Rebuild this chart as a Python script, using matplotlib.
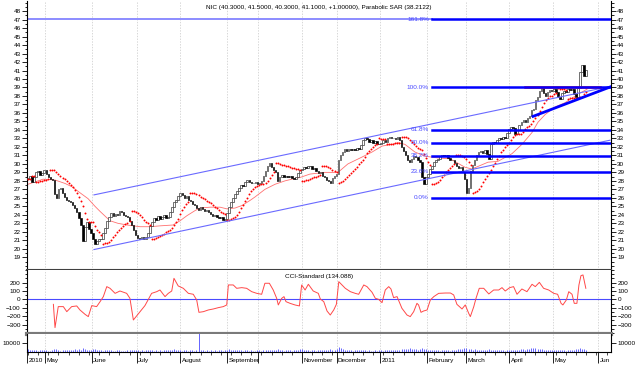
import numpy as np
import matplotlib.pyplot as plt
from matplotlib.transforms import blended_transform_factory

plt.rcParams['font.family'] = ['Liberation Sans', 'DejaVu Sans']
FS = 4.6

# daily closes, one per trading day (late Apr 2010 .. May 2011)
closes = [
    28.2, 28.6, 27.9, 28.4, 29.0, 29.2, 28.7, 28.9, 29.3, 28.8,
    28.4, 28.2, 28.1, 26.4, 26.0, 27.0, 27.2, 26.6, 26.1, 25.8,
    25.6, 25.5, 25.1, 24.8, 24.3, 23.6, 22.8, 20.9, 22.6, 23.1,
    22.3, 21.9, 21.2, 20.6, 20.9, 21.2, 21.1, 21.8, 22.4, 23.3,
    23.8, 24.2, 23.9, 24.1, 24.0, 24.5, 24.3, 24.0, 23.9, 23.7,
    23.3, 22.8, 22.2, 21.6, 21.3, 21.1, 21.4, 21.2, 21.4, 21.9,
    22.7, 23.1, 23.6, 23.4, 23.9, 23.5, 23.8, 24.0, 23.6, 23.8,
    24.3, 24.9, 25.5, 25.8, 26.2, 26.6, 26.3, 26.0, 26.2, 25.8,
    25.6, 25.3, 25.1, 24.8, 24.6, 24.9, 24.7, 24.5, 24.6, 24.3,
    24.1, 23.9, 24.0, 23.7, 23.6, 23.8, 23.4, 23.5, 24.2, 24.9,
    25.5, 26.0, 26.4, 26.8, 27.2, 27.5, 27.4, 27.9, 28.1, 27.9,
    27.8, 27.7, 27.9, 27.6, 27.8, 28.0, 28.6, 29.2, 29.8, 30.1,
    29.6, 29.3, 29.0, 28.0, 28.4, 28.7, 28.5, 28.6, 28.4, 28.6,
    28.3, 28.2, 28.4, 28.9, 29.3, 29.4, 29.6, 29.5, 29.8, 29.7,
    29.4, 29.5, 29.2, 28.9, 29.0, 28.6, 28.4, 28.1, 28.0, 27.8,
    28.3, 28.6, 28.8, 30.4, 31.0, 31.4, 31.7, 31.5, 31.7, 31.6,
    31.8, 31.6, 31.9, 31.7, 32.2, 32.8, 33.0, 32.9, 32.6, 32.8,
    32.5, 32.7, 32.4, 32.3, 32.5, 32.8, 32.6, 33.0, 33.2, 33.0,
    33.1, 32.9, 33.2, 32.8, 32.0, 31.5, 31.0, 30.4, 30.2, 30.6,
    30.9, 30.8, 30.5, 30.2, 28.5, 27.6, 28.4, 28.8, 29.4, 29.8,
    30.2, 30.5, 30.6, 30.9, 31.0, 30.9, 31.1, 30.7, 30.4, 30.5,
    30.1, 29.8, 29.5, 29.6, 29.0, 28.2, 26.6, 27.2, 29.2, 29.9,
    30.4, 31.0, 31.4, 31.5, 31.3, 31.6, 31.2, 30.6, 32.3, 32.6,
    32.5, 32.8, 33.0, 32.9, 33.2, 33.1, 33.6, 34.1, 34.4, 34.2,
    33.5, 34.0, 34.6, 34.9, 35.2, 34.9, 35.4, 35.7, 36.3, 36.5,
    37.5, 37.9, 38.6, 38.9, 38.4, 38.0, 38.5, 38.7, 38.6, 38.8,
    38.5, 37.9, 37.7, 38.3, 38.6, 38.5, 38.8, 38.7, 38.8, 38.2,
    37.9, 38.9, 40.8, 41.6, 40.3, 41.1,
]

# volume in hundreds of shares
volume = [
    30, 25, 22, 18, 20, 15, 22, 18, 25, 20, 16, 14, 18, 35, 28, 20, 16, 22, 18, 25,
    20, 18, 24, 28, 22, 30, 26, 40, 32, 22, 20, 25, 30, 28, 22, 18, 20, 16, 24, 20,
    18, 22, 16, 14, 18, 20, 15, 12, 16, 18, 20, 22, 25, 20, 18, 16, 22, 14, 18, 20,
    22, 18, 16, 20, 14, 18, 16, 20, 22, 18, 25, 22, 30, 20, 18, 22, 16, 18, 20, 15,
    18, 20, 16, 22, 260, 25, 18, 16, 20, 14, 18, 16, 20, 15, 18, 22, 16, 20, 24, 28,
    22, 20, 26, 18, 22, 20, 16, 18, 20, 15, 18, 16, 14, 18, 20, 16, 22, 26, 24, 20,
    22, 18, 25, 28, 20, 18, 16, 20, 22, 18, 16, 20, 18, 22, 28, 30, 24, 20, 18, 16,
    18, 20, 16, 22, 18, 20, 24, 26, 22, 28, 22, 20, 30, 60, 45, 35, 25, 22, 20, 18,
    16, 20, 18, 22, 25, 20, 18, 16, 20, 14, 16, 18, 15, 20, 18, 16, 22, 24, 20, 18,
    20, 22, 18, 25, 30, 35, 32, 28, 40, 35, 30, 28, 25, 35, 42, 38, 30, 25, 22, 20,
    18, 22, 20, 16, 18, 20, 22, 18, 16, 20, 22, 25, 28, 30, 35, 40, 45, 38, 30, 25,
    28, 22, 20, 18, 22, 25, 20, 30, 25, 22, 20, 18, 22, 20, 18, 16, 22, 20, 25, 22,
    20, 25, 22, 28, 30, 25, 35, 38, 45, 40, 48, 35, 30, 28, 25, 22, 20, 24, 22, 20,
    18, 22, 25, 20, 18, 16, 20, 22, 18, 25, 28, 30, 40, 35, 28, 24,
]

# moving average (day index, price)
ma_day = [0, 7.4, 13.3, 18.2, 21.7, 25.6, 29.6, 33, 35.5, 40.4, 44.3, 48.8, 55.2, 60.1,
          65, 71.4, 74.9, 78.3, 82.3, 84.7, 89.7, 94.6, 98, 102, 105.4, 109.4, 111.8,
          116.7, 121.7, 126.6, 130, 134, 138.9, 146.3, 152.7, 157.6, 164.5, 169.5,
          174.4, 179.3, 182.3, 185.7, 190.6, 195.6, 202, 207.9, 215.3, 218.7, 226.6,
          231.5, 238.4, 243.3, 248.3, 251.2, 254.7, 259.6, 264.5, 270.9, 275.4]
ma_val = [27.6, 28.2, 28.1, 27.7, 27.3, 26.6, 25.9, 25.0, 24.4, 23.3, 23.0, 22.8, 22.6, 22.6,
          22.7, 22.8, 23.3, 23.9, 24.5, 24.8, 24.9, 24.9, 24.7, 24.8, 25.1, 25.7, 26.1,
          27.0, 27.6, 28.0, 28.2, 28.4, 28.8, 29.0, 29.0, 30.0, 30.8, 31.4,
          32.1, 32.3, 32.5, 32.3, 31.4, 30.9, 30.7, 30.6, 29.6, 29.4, 30.2,
          30.3, 31.2, 32.3, 33.7, 34.9, 35.8, 36.7, 37.2, 38.2, 38.8]

# CCI-Standard (day index, value)
cci_day = [12.5, 13.3, 14.9, 17.4, 19.1, 21.5, 24, 25.6, 28.1, 29.7, 31.4, 33.8, 35.5, 37.1,
           38.8, 40.4, 42.9, 45.3, 48.6, 50.2, 51.9, 55.2, 57.6, 60.9, 63.4, 65, 67.5,
           69.1, 70.8, 71.9, 74, 76.5, 79, 81.4, 83.1, 84.2, 86.4, 88.8, 91.3, 93.8,
           96.2, 97.9, 98.7, 101.1, 102.8, 105.3, 107.7, 110.2, 112.7, 115.1, 116.7,
           118.9, 120.8, 122.5, 123.3, 125, 126.1, 127.1, 129.1, 131.5, 133.7, 134.8,
           136.5, 138.1, 140.5, 143, 144, 145.7, 147.3, 148.9, 150.6, 151.9, 153.1,
           154.7, 156.3, 158.8, 161.2, 162.9, 165.4, 167, 169.5, 171.1, 172.7, 174.4,
           176, 177.7, 178.8, 180.1, 181.8, 184.2, 186.7, 188.3, 190, 191.6, 192.4,
           193.6, 194.9, 196.6, 198.2, 199.9, 202.3, 205.6, 208.1, 209.7, 211.3,
           213.8, 215.4, 217.1, 217.9, 219.6, 220.7, 222.3, 224.5, 227, 229.4, 231.9,
           233.5, 235.1, 237.3, 239.2, 240.9, 243.3, 245.8, 248.3, 249.9, 251.9, 254,
           256.5, 259, 260.9, 262.6, 263.5, 265.2, 266.4, 268, 269.1, 270.4, 271.4,
           272.4, 273.4, 274.8]
cci_val = [-60, -337, -87, -87, -147, -87, -79, -127, -179, -206, -75, -87, -28, 32,
           151, 131, 71, 99, 71, 12, -246, -147, -75, 71, 91, 111, 32,
           71, 99, 250, 159, 131, 71, 60, -8, -155, -147, -127, -115, -99,
           -87, -67, 171, 171, 131, 139, 131, 91, 71, 60, 191,
           191, 111, 12, -67, 12, 32, -28, -48, -67, -79, 171,
           111, 179, 99, 71, 4, -28, -139, -187, -127, -60, 210,
           171, 131, 91, 71, 60, 171, 151, 83, 12, 0, -40,
           111, 151, 123, 20, 32, -107, -187, -206, -147, -48, -67,
           -155, -139, -127, -8, 32, 71, 75, 75, 52, -60,
           -115, -67, -167, -206, -87, 12, 131, 131, 64, 111, 111,
           139, 99, 139, 151, 60, 123, 91, 179, 151, 202, 131,
           111, 71, 60, -48, -67, -8, 91, 60, -48, -48, 171,
           282, 290, 131]

month_pos = [-0.5, 8.5, 31.5, 53.5, 75, 98, 113.5, 135, 152, 173.5, 196.5, 216, 237, 258.5, 281]
month_lbl = ['2010', 'May', 'June', 'July', 'August', 'September', '', 'November',
             'December', '2011', 'February', 'March', 'April', 'May', 'Jun']

fib_low, fib_high = 26.0, 39.0
fib_ratio = [0.0, 0.236, 0.382, 0.5, 0.618, 1.0, 1.618]
fib_start = 199

# drawn trend lines: (day, price) pairs
chan_upper = [(32.5, 26.35), (286.7, 39.12)]
chan_lower = [(32.5, 19.91), (286.7, 32.79)]
trend_thick = [(248.8, 35.6), (287.2, 39.1)]
resist_red = [(244.8, 39.05), (281.8, 39.05)]


def parabolic_sar(high, low, step=0.02, amax=0.2):
    n = len(high)
    sar = np.zeros(n)
    bull = True
    af = step
    ep = high[0]
    sar[0] = low[0]
    for i in range(1, n):
        s = sar[i - 1] + af * (ep - sar[i - 1])
        if bull:
            s = min(s, low[i - 1], low[max(i - 2, 0)])
            if low[i] < s:
                bull, s, ep, af = False, ep, low[i], step
            elif high[i] > ep:
                ep, af = high[i], min(af + step, amax)
        else:
            s = max(s, high[i - 1], high[max(i - 2, 0)])
            if high[i] > s:
                bull, s, ep, af = True, ep, high[i], step
            elif low[i] < ep:
                ep, af = low[i], min(af + step, amax)
        sar[i] = s
    return sar


c = np.array(closes)
o = np.r_[c[0], c[:-1]]
hi = np.maximum(o, c)
lo = np.minimum(o, c)
days = np.arange(len(c))
sar = parabolic_sar(hi, lo)

fig = plt.figure(figsize=(6.37, 3.67), dpi=100)
L, W = 27 / 637, 584 / 637
ax1 = fig.add_axes([L, 97 / 367, W, 269 / 367])
ax2 = fig.add_axes([L, 33 / 367, W, 64 / 367], sharex=ax1)
ax3 = fig.add_axes([L, 15 / 367, W, 18 / 367], sharex=ax1)

xmax = 287.2
for ax in (ax1, ax2, ax3):
    ax.set_xlim(-0.5, xmax)
    for p in month_pos[1:]:
        ax.axvline(p, color='#c8c8c8', lw=0.5, ls=(0, (2, 2)), zorder=0)
    ax.spines['top'].set_visible(False)
    for s in ('left', 'right'):
        ax.spines[s].set_linewidth(0.8)

# price panel
up = c >= o
body = np.maximum(np.abs(c - o), 0.08)
ax1.bar(days[up], body[up], bottom=lo[up], width=0.75, color='white', edgecolor='#222222', lw=0.45, zorder=3)
ax1.bar(days[~up], body[~up], bottom=lo[~up], width=0.75, color='black', edgecolor='black', lw=0.45, zorder=3)
ax1.plot(ma_day, ma_val, color='#ff7070', lw=0.6, zorder=2)
ax1.plot(days, sar, ls='none', marker='o', ms=1.4, mec='none', mfc='#ff0000', zorder=4)

for seg, col, lw in ((chan_upper, '#6a6aff', 0.8), (chan_lower, '#6a6aff', 0.8),
                     (trend_thick, '#0000ff', 2.0), (resist_red, '#ff0000', 1.8)):
    ax1.plot([seg[0][0], seg[1][0]], [seg[0][1], seg[1][1]], color=col, lw=lw, zorder=5)

ax1.plot([-0.5, fib_start], [fib_low + 1.618 * (fib_high - fib_low)] * 2, color='#8c8cff', lw=1.4, zorder=1)
for r in fib_ratio:
    lvl = fib_low + r * (fib_high - fib_low)
    ax1.plot([fib_start, xmax], [lvl, lvl], color='#0000ff', lw=1.8, zorder=5)
    ax1.text(fib_start - 1.5, lvl, f'{r * 100:.1f}%', color='#4a4aff', fontsize=FS,
             ha='right', va='center', zorder=6)

ax1.set_ylim(17.69, 49.19)
ax1.set_yticks(np.arange(19, 49))
ax1.set_yticks(np.arange(17.5, 49.1, 0.5), minor=True)
ax1.text(0.5, 0.977, 'NIC (40.3000, 41.5000, 40.3000, 41.1000, +1.00000), Parabolic SAR (38.2122)',
         transform=ax1.transAxes, ha='center', va='center', fontsize=FS)
ax1.spines['bottom'].set_color('#404040')
ax1.spines['bottom'].set_linewidth(1.5)

# CCI panel
ax2.plot(cci_day, cci_val, color='#ff4848', lw=0.7, zorder=3)
ax2.axhline(0, color='#4a4aff', lw=0.8, zorder=2)
ax2.set_ylim(-413, 349)
ax2.set_yticks(np.arange(-300, 201, 100))
ax2.set_yticks(np.arange(-400, 301, 50), minor=True)
ax2.text(0.5, 0.9, 'CCI-Standard (134.088)', transform=ax2.transAxes, ha='center',
         va='center', fontsize=FS)
ax2.spines['bottom'].set_color('#7a7a7a')
ax2.spines['bottom'].set_linewidth(3)

# volume panel
ax3.vlines(days, 0, volume, color='#4a4aff', lw=0.6, zorder=3)
ax3.set_ylim(0, 200)
ax3.set_yticks([100])
ax3.set_yticklabels(['10000'])

for ax in (ax1, ax2, ax3):
    ax.tick_params(axis='y', which='both', left=True, right=True, labelleft=True,
                   labelright=True, direction='out', labelsize=FS, pad=1, width=0.6)
    ax.tick_params(axis='y', which='major', length=3.5)
    ax.tick_params(axis='y', which='minor', length=1.8)
for ax in (ax1, ax2):
    ax.tick_params(axis='x', which='both', bottom=False, labelbottom=False)

ax3.set_xticks(month_pos)
ax3.set_xticks(np.arange(0, 288, 5), minor=True)
ax3.tick_params(axis='x', which='major', length=8, width=0.6, labelbottom=False)
ax3.tick_params(axis='x', which='minor', length=2, width=0.5)
tr = blended_transform_factory(ax3.transData, ax3.transAxes)
for p, lbl in zip(month_pos, month_lbl):
    ax3.text(p + 0.7, -0.45, lbl, transform=tr, ha='left', va='center', fontsize=FS)

fig.savefig('out.png', dpi=100)
